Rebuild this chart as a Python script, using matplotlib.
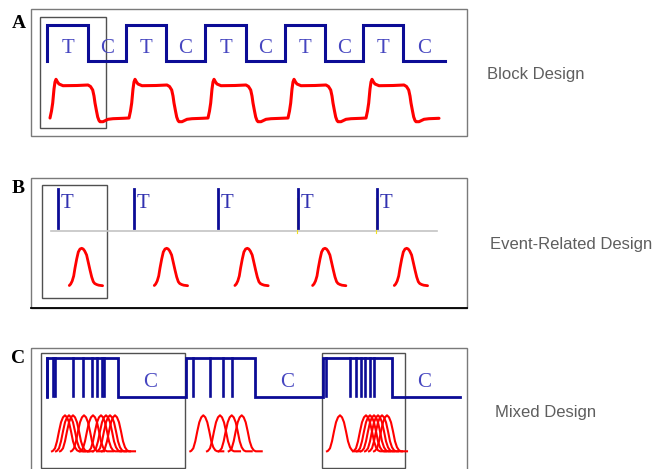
import matplotlib
matplotlib.use("Agg")
import matplotlib.pyplot as plt
from matplotlib.patches import Rectangle

# --- data (horizontal positions are time in picture units) ---
# A: block design
block_on = [47, 126, 205, 285, 363]
block_off = [88, 166, 246, 325, 403]
block_end = 445
block_resp_dx = [3, 4.5, 5.7, 7, 8, 9, 10.5, 12, 16, 30, 41, 43.5, 45.7,
                 47, 48, 49.5, 50.7, 52, 53, 56, 61, 66, 76]
block_resp_y = [118, 111, 103, 89, 82, 79.3, 82, 84, 85.7, 85.5, 85, 86.5,
                90, 96, 103, 111, 117, 120.5, 121.7, 121.7, 119.3, 118.7, 118.3]

# B: event-related design
events_b = [58.3, 134, 217.7, 297.7, 377.3]
peaks_b = [81.7, 166.7, 247.3, 325, 406.7]
bump_b_dx = [-12.4, -11, -9.5, -8, -6.7, -5, -3.4, -1.7, 0, 1.5, 3, 4.9,
             6.5, 8.3, 10, 11.6, 13, 14.9, 17, 20.9]
bump_b_y = [285.5, 284, 281, 276, 268, 259, 252, 249, 248.3, 249, 251, 255,
            262, 270, 277, 281.7, 283.5, 284.5, 285.2, 285.7]

# C: mixed design
mixed_on = [47.3, 185.7, 322.7]
mixed_off = [118.3, 255, 391.7]
mixed_end = 460
events_c = [47.3, 52.7, 55.3, 73.3, 82.7, 91.7, 97.3, 101.7, 104.3,
            192.7, 210, 222.7, 231.7,
            326, 350, 356, 360.7, 365, 370, 374.3]
peaks_c = [65, 69, 73, 84, 93, 101, 106, 110, 115,
           203.3, 220, 231.7, 241.7,
           340, 366, 370, 374, 378, 382, 387]
bump_c_dx = [-13, -12, -10, -8, -6, -4, -2, 0, 2, 4, 6, 8, 10, 12, 14, 20]
bump_c_h = [0, 0.5, 3, 10, 20, 29, 34, 36, 34, 29, 20, 10, 4, 1, 0, 0]

BLUE = "#0c0c96"
LETTER_BLUE = "#4646c0"
RED = "#ff0000"


def step_line(ons, offs, end, high, low):
    xs, ys = [ons[0]], [low]
    for i, (a, b) in enumerate(zip(ons, offs)):
        xs += [a, b, b]
        ys += [high, high, low]
        nxt = ons[i + 1] if i + 1 < len(ons) else end
        xs.append(nxt)
        ys.append(low)
    return xs, ys


fig = plt.figure(figsize=(6.53, 4.69), dpi=100)
ax = fig.add_axes([0, 0, 1, 1])
ax.set_xlim(0, 653)
ax.set_ylim(469, 0)
ax.axis("off")

serif = "Liberation Serif"
sans = "Liberation Sans"

# outer boxes
for top, bottom in [(9, 136), (178, 308), (348, 480)]:
    ax.add_patch(Rectangle((31, top), 436, bottom - top, fill=False,
                           edgecolor="#7a7a7a", lw=1.0))
ax.plot([31, 467], [308, 308], color="black", lw=1.3)

# inner boxes
for x0, x1, y0, y1 in [(40, 106, 17, 128), (41.7, 107.3, 185, 297.7),
                       (40.7, 185, 353.3, 467.7), (321.7, 405, 353.3, 467.7)]:
    ax.add_patch(Rectangle((x0, y0), x1 - x0, y1 - y0, fill=False,
                           edgecolor="#505050", lw=1.0))

# panel labels
for lab, yb in [("A", 28.3), ("B", 193), ("C", 363)]:
    ax.text(11.5, yb, lab, fontfamily=serif, fontweight="bold",
            fontsize=14, ha="left", va="baseline", color="black")

# --- A ---
xs, ys = step_line(block_on, block_off, block_end, 25, 61)
ax.plot(xs, ys, color=BLUE, lw=2.2, solid_joinstyle="miter")
for i, (a, b) in enumerate(zip(block_on, block_off)):
    nxt = block_on[i + 1] if i + 1 < len(block_on) else block_end
    ax.text((a + b) / 2, 53, "T", fontfamily=serif, fontsize=15,
            color=LETTER_BLUE, ha="center", va="baseline")
    ax.text((b + nxt) / 2, 53, "C", fontfamily=serif, fontsize=15,
            color=LETTER_BLUE, ha="center", va="baseline")
rx, ry = [], []
for a in block_on:
    rx += [a + d for d in block_resp_dx]
    ry += block_resp_y
ax.plot(rx, ry, color=RED, lw=2.2, solid_joinstyle="round",
        solid_capstyle="round")

# --- B ---
ax.plot([50.7, 437.3], [231, 231], color="#c4c4c4", lw=1.2)
for i, e in enumerate(events_b):
    if i >= 3:
        ax.plot([e - 1.2, e - 1.2], [198, 233], color="#f0e020", lw=0.8)
    ax.plot([e, e], [189, 228.3], color=BLUE, lw=2.0)
    ax.text(e + 2.5, 208.3, "T", fontfamily=serif, fontsize=15,
            color="#3232b0", ha="left", va="baseline")
for p in peaks_b:
    ax.plot([p + d for d in bump_b_dx], bump_b_y, color=RED, lw=2.0,
            solid_capstyle="round")

# --- C ---
xs, ys = step_line(mixed_on, mixed_off, mixed_end, 358, 397)
ax.plot(xs, ys, color=BLUE, lw=2.0, solid_joinstyle="miter")
for e in events_c:
    ax.plot([e, e], [358, 396], color=BLUE, lw=1.9)
for i, b in enumerate(mixed_off):
    nxt = mixed_on[i + 1] if i + 1 < len(mixed_on) else mixed_end
    ax.text((b + nxt) / 2 - 2, 387, "C", fontfamily=serif, fontsize=15,
            color=LETTER_BLUE, ha="center", va="baseline")
for p in peaks_c:
    ax.plot([p + d for d in bump_c_dx], [451.3 - h for h in bump_c_h],
            color=RED, lw=1.5)

# side labels
for txt, x, yb in [("Block Design", 487, 79.3),
                   ("Event-Related Design", 490, 249),
                   ("Mixed Design", 495, 416.7)]:
    ax.text(x, yb, txt, fontfamily=sans, fontsize=12, color="#5e5e5e",
            ha="left", va="baseline")

fig.savefig("out.png", dpi=100)
